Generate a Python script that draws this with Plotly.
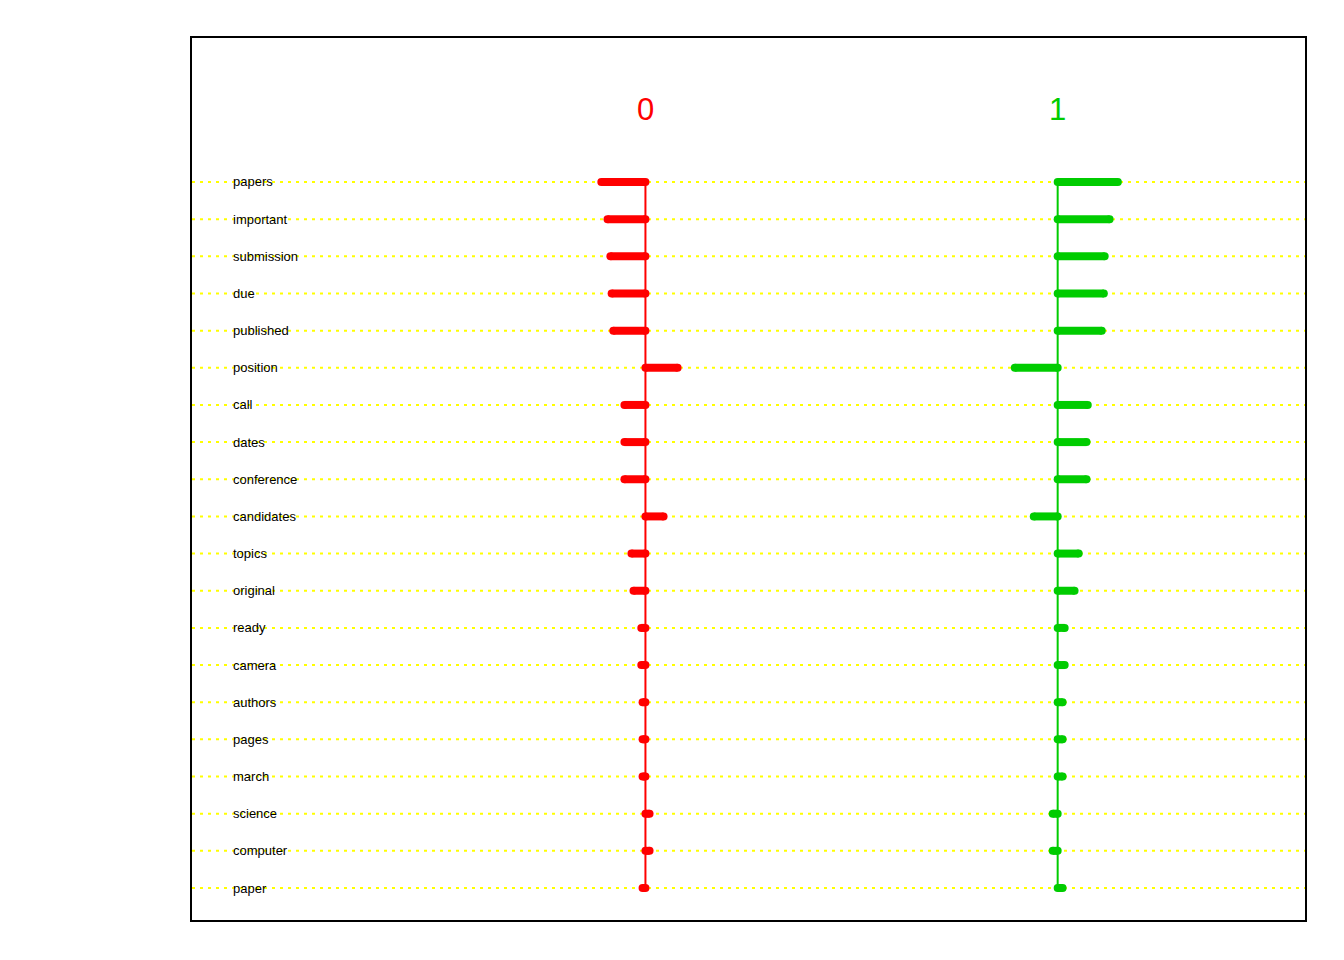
import plotly.graph_objects as go

words = ["papers", "important", "submission", "due", "published", "position", "call",
         "dates", "conference", "candidates", "topics", "original", "ready", "camera",
         "authors", "pages", "march", "science", "computer", "paper"]
class_names = ["0", "1"]
# weights per class (in hundredths of the class spacing)
w_class0 = [-10.7, -9.2, -8.5, -8.2, -7.8, 7.8, -5.1, -5.1, -5.1, 4.4,
            -3.4, -2.9, -1.0, -1.0, -0.7, -0.7, -0.7, 1.0, 1.0, -0.7]
w_class1 = [14.6, 12.6, 11.4, 11.2, 10.7, -10.4, 7.3, 7.0, 7.0, -5.8,
            5.1, 4.1, 1.7, 1.7, 1.2, 1.2, 1.2, -1.2, -1.2, 1.2]
colors = ["#FF0000", "#00CC00"]
SCALE = 0.01

n = len(words)
rows = list(range(n))
X_MIN, X_MAX = -1.1, 1.6
Y_TOP, Y_BOT = -3.875, 19.861

fig = go.Figure()

# yellow dotted guide lines
gx, gy = [], []
for r in rows:
    gx += [X_MIN, X_MAX, None]
    gy += [r, r, None]
fig.add_trace(go.Scatter(x=gx, y=gy, mode="lines",
                         line=dict(color="#FFFF00", width=2, dash="3px,5px"),
                         hoverinfo="skip", showlegend=False))

for ci, (weights, col) in enumerate(zip([w_class0, w_class1], colors)):
    # vertical axis line of the class
    fig.add_trace(go.Scatter(x=[ci, ci], y=[rows[0], rows[-1]], mode="lines",
                             line=dict(color=col, width=2),
                             hoverinfo="skip", showlegend=False))
    bx, by, mx, my = [], [], [], []
    for r, w in zip(rows, weights):
        bx += [ci, ci + w * SCALE, None]
        by += [r, r, None]
        mx += [ci, ci + w * SCALE]
        my += [r, r]
    fig.add_trace(go.Scatter(x=bx, y=by, mode="lines",
                             line=dict(color=col, width=8),
                             hoverinfo="skip", showlegend=False))
    fig.add_trace(go.Scatter(x=mx, y=my, mode="markers",
                             marker=dict(color=col, size=8, line=dict(width=0)),
                             hoverinfo="skip", showlegend=False))
    fig.add_annotation(x=ci, y=-1.94, text=class_names[ci], showarrow=False,
                       font=dict(family="Liberation Sans, Arial", size=31, color=col),
                       xanchor="center", yanchor="middle")

for r, wd in zip(rows, words):
    fig.add_annotation(x=-1.0, y=r, text=wd, showarrow=False, xshift=-2,
                       font=dict(family="Liberation Sans, Arial", size=13, color="black"),
                       xanchor="left", yanchor="middle")

fig.update_layout(
    width=1344, height=960,
    margin=dict(l=192, r=39, t=38, b=40),
    paper_bgcolor="white", plot_bgcolor="white",
    showlegend=False,
    xaxis=dict(range=[X_MIN, X_MAX], showgrid=False, zeroline=False, showticklabels=False,
               ticks="", showline=True, mirror=True, linecolor="black", linewidth=2),
    yaxis=dict(range=[Y_BOT, Y_TOP], showgrid=False, zeroline=False, showticklabels=False,
               ticks="", showline=True, mirror=True, linecolor="black", linewidth=2),
)

fig.write_html("out.html")
